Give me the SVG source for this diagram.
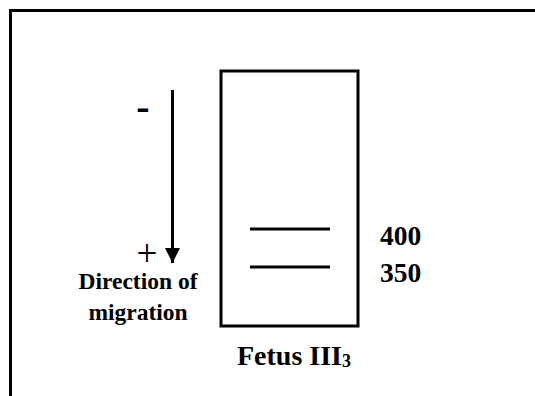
<svg xmlns="http://www.w3.org/2000/svg" width="535" height="396" viewBox="0 0 535 396">
<style>
.t{font-family:"Liberation Serif","Times New Roman",serif;font-weight:bold;fill:#000}
.s{stroke:#000;stroke-width:3;fill:none}
</style>
<defs>
<marker id="ah" markerWidth="5" markerHeight="5" refX="5" refY="2.5" orient="auto" markerUnits="strokeWidth">
<path d="M0,0 L5,2.5 L0,5 z" fill="#000"/>
</marker>
</defs>
<rect width="535" height="396" fill="#fff"/>
<g id="frame"><path class="s" d="M10.5,400 L10.5,10.5 L540,10.5"/></g>
<g id="gel">
<rect class="s" x="221" y="71" width="137" height="255"/>
<line class="s" x1="250" y1="229" x2="330" y2="229"/>
<line class="s" x1="250" y1="267" x2="330" y2="267"/>
</g>
<g id="labels">
<text class="t" x="143" y="120" font-size="40" text-anchor="middle">-</text>
<text x="147" y="266" font-size="37" text-anchor="middle" style="font-family:'Liberation Serif',serif">+</text>
<text class="t" x="138" y="289" font-size="23.5" text-anchor="middle">Direction of</text>
<text class="t" x="138" y="320" font-size="23.5" text-anchor="middle">migration</text>
<text class="t" x="380" y="245" font-size="27.5">400</text>
<text class="t" x="380" y="282" font-size="27.5">350</text>
<text class="t" x="237" y="365" font-size="28">Fetus III<tspan font-size="18" dy="2">3</tspan></text>
</g>
<g id="connectors">
<line x1="172.5" y1="90" x2="172.5" y2="263" stroke="#000" stroke-width="3" marker-end="url(#ah)"/>
</g>
</svg>
